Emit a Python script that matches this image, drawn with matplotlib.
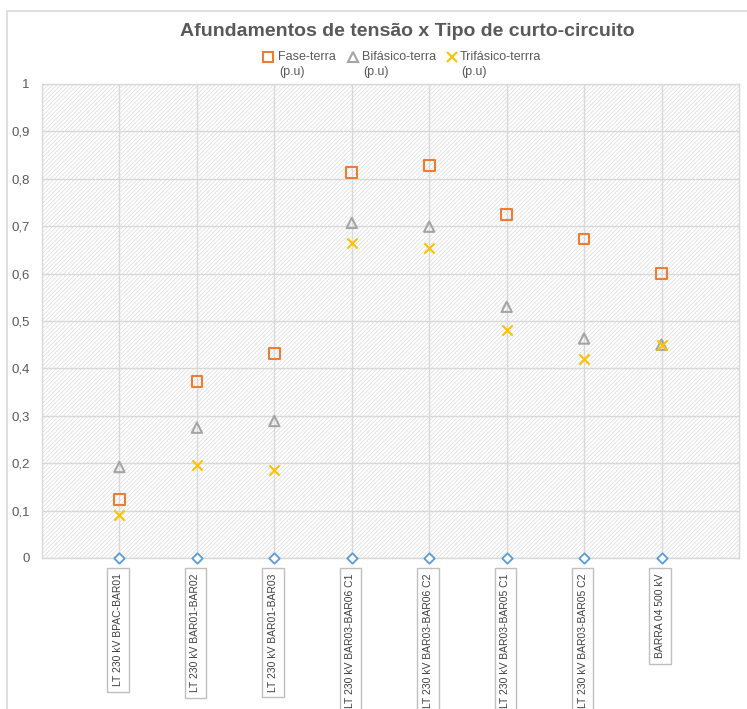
import numpy as np
import matplotlib.pyplot as plt
from matplotlib.patches import Rectangle
from matplotlib.lines import Line2D
from matplotlib.ticker import FuncFormatter

plt.rcParams['font.family'] = ['Liberation Sans', 'DejaVu Sans']
plt.rcParams['hatch.color'] = '#DADADA'
plt.rcParams['hatch.linewidth'] = 0.5

# Data
labels = [
    "LT 230 kV BPAC-BAR01",
    "LT 230 kV BAR01-BAR02",
    "LT 230 kV BAR01-BAR03",
    "LT 230 kV BAR03-BAR06 C1",
    "LT 230 kV BAR03-BAR06 C2",
    "LT 230 kV BAR03-BAR05 C1",
    "LT 230 kV BAR03-BAR05 C2",
    "BARRA 04 500 kV",
]
fase_terra = [0.123, 0.372, 0.431, 0.813, 0.828, 0.725, 0.673, 0.600]
bifasico_terra = [0.192, 0.275, 0.289, 0.707, 0.699, 0.530, 0.463, 0.450]
trifasico_terra = [0.090, 0.197, 0.186, 0.665, 0.655, 0.482, 0.420, 0.450]
base = [0, 0, 0, 0, 0, 0, 0, 0]
series_names = ['Fase-terra', 'Bifásico-terra', 'Trifásico-terrra']

x = np.arange(1, len(labels) + 1)
W, H = 747, 709

fig = plt.figure(figsize=(W / 100, H / 100), dpi=100)
ax = fig.add_axes([42 / W, 151 / H, 697 / W, 474 / H])

# outer chart border
fig.patches.append(Rectangle((7 / W, -0.05), 1.0, 1.05 - 11 / H, transform=fig.transFigure,
                             fill=False, edgecolor='#D9D9D9', linewidth=1.2))

# hatched plot background
ax.add_patch(Rectangle((0, 0), 1, 1, transform=ax.transAxes, facecolor='white',
                       hatch='////////', edgecolor='#DADADA', linewidth=0, zorder=0))

ax.set_xlim(0, 9)
ax.set_ylim(0, 1)
ax.set_yticks(np.arange(0, 1.01, 0.1))
ax.yaxis.set_major_formatter(FuncFormatter(
    lambda v, p: str(int(round(v))) if abs(v - round(v)) < 1e-9 else f"{v:.1f}".replace('.', ',')))
ax.set_xticks(x)
ax.set_xticklabels([])
ax.tick_params(length=0, labelsize=9.5, labelcolor='#595959', pad=9)
ax.grid(True, color='#D9D9D9', linewidth=1.0, zorder=1)
ax.set_axisbelow(True)
for s in ['left', 'top', 'right', 'bottom']:
    ax.spines[s].set_color('#D9D9D9')
    ax.spines[s].set_linewidth(1.0)

ax.scatter(x, fase_terra, marker='s', s=60, facecolors='none', edgecolors='#ED7D31',
           linewidths=1.5, zorder=3)
ax.scatter(x, bifasico_terra, marker='^', s=55, facecolors='none', edgecolors='#A5A5A5',
           linewidths=1.5, zorder=3)
ax.scatter(x, trifasico_terra, marker='x', s=55, color='#FFC000',
           linewidths=1.5, zorder=4)
ax.scatter(x, base, marker='D', s=28, facecolors='white', edgecolors='#5B9BD5',
           linewidths=1.3, zorder=5, clip_on=False)

for xi, lab in zip(x, labels):
    ax.annotate(lab, xy=(xi, 0), xytext=(-1, -11), textcoords='offset points',
                rotation=90, ha='center', va='top', fontsize=7.5, color='#404040',
                bbox=dict(boxstyle='square,pad=0.55', facecolor='white', edgecolor='#BFBFBF', linewidth=1),
                annotation_clip=False)

fig.text(0.545, 1 - 31 / H, 'Afundamentos de tensão x Tipo de curto-circuito', ha='center', va='center',
         fontsize=14, fontweight='bold', color='#595959')

# legend drawn by hand: marker aligned with first line of two-line label
leg_markers = [('s', '#ED7D31', 'none'), ('^', '#A5A5A5', 'none'), ('x', '#FFC000', '#FFC000')]
leg_mx = [268, 353, 452]
leg_tx = [278, 362, 460]
for (m, ec, fc), mx, tx, name in zip(leg_markers, leg_mx, leg_tx, series_names):
    fig.add_artist(Line2D([mx / W], [1 - 57 / H], marker=m, markersize=6.5 if m != 'x' else 7,
                          markerfacecolor=fc, markeredgecolor=ec, markeredgewidth=1.5,
                          linestyle='none', transform=fig.transFigure))
    fig.text(tx / W, 1 - 57 / H, name, ha='left', va='center', fontsize=9, color='#595959')
    fig.text((tx + 1) / W, 1 - 72 / H, '(p.u)', ha='left', va='center', fontsize=9, color='#595959')

fig.savefig('out.png', dpi=100)
